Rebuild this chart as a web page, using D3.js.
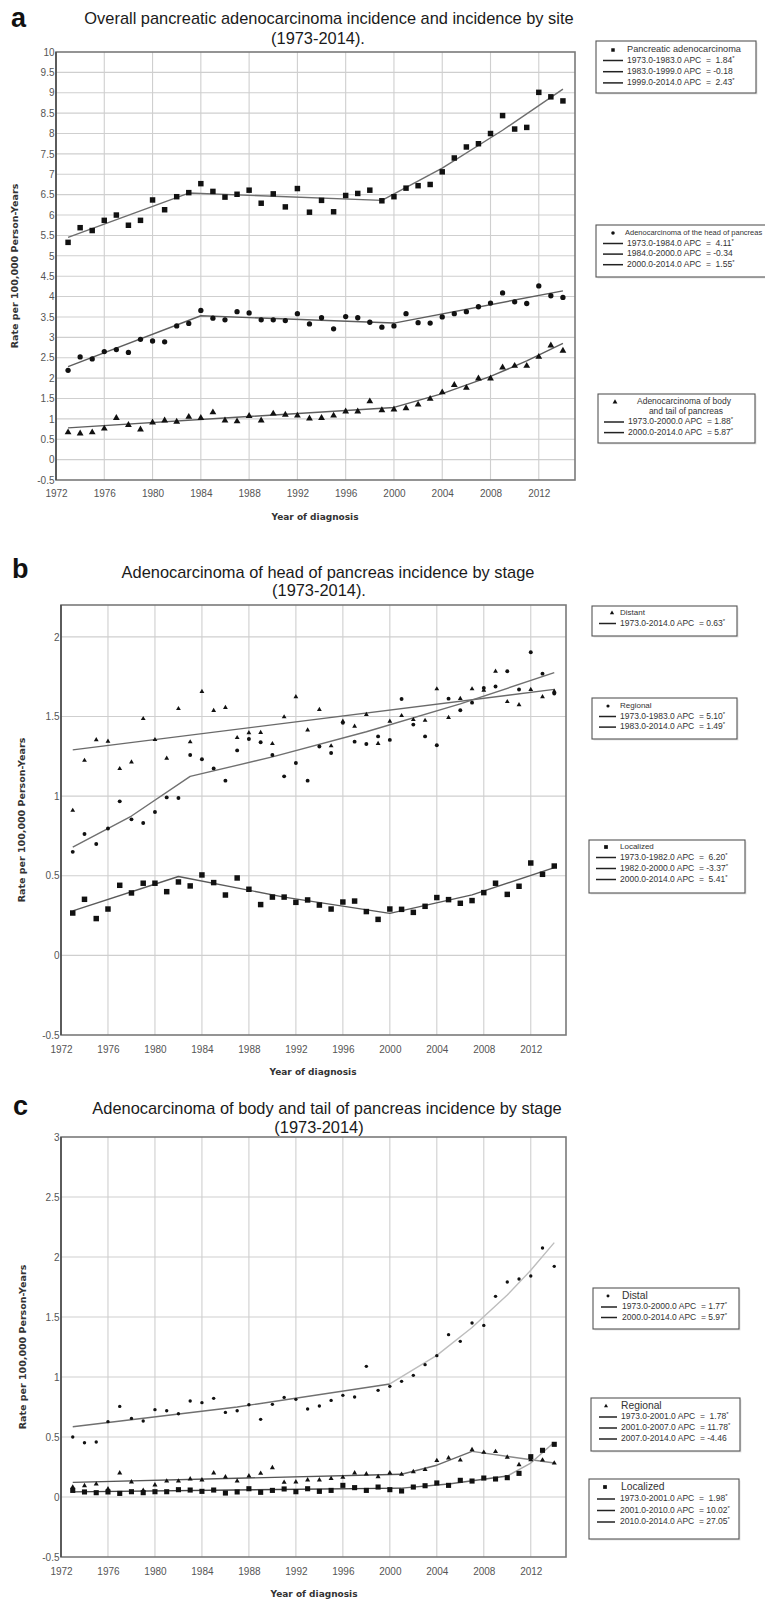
<!DOCTYPE html>
<html><head><meta charset="utf-8">
<script src="https://cdn.jsdelivr.net/npm/d3@7"></script>
<style>body{margin:0;background:#fff}svg{display:block}</style>
</head><body>
<svg id="chart" width="765" height="1603"></svg>
<script>
// ---------- data ----------
const years = [1973,1974,1975,1976,1977,1978,1979,1980,1981,1982,1983,1984,1985,1986,1987,1988,1989,1990,1991,1992,1993,1994,1995,1996,1997,1998,1999,2000,2001,2002,2003,2004,2005,2006,2007,2008,2009,2010,2011,2012,2013,2014];
const xTickYears = [1972,1976,1980,1984,1988,1992,1996,2000,2004,2008,2012];

// panel a
const aPancreatic = [5.33,5.69,5.62,5.87,6.00,5.75,5.87,6.37,6.13,6.45,6.55,6.77,6.58,6.44,6.51,6.61,6.29,6.52,6.20,6.65,6.07,6.36,6.08,6.48,6.53,6.61,6.35,6.45,6.66,6.72,6.75,7.06,7.40,7.67,7.75,8.00,8.44,8.11,8.15,9.01,8.90,8.80];
const aHead = [2.19,2.52,2.47,2.65,2.70,2.63,2.95,2.91,2.89,3.28,3.34,3.66,3.47,3.43,3.63,3.60,3.43,3.43,3.41,3.58,3.33,3.48,3.21,3.51,3.48,3.37,3.25,3.28,3.58,3.36,3.35,3.50,3.58,3.63,3.75,3.84,4.09,3.87,3.83,4.26,4.02,3.98];
const aBodyTail = [0.67,0.64,0.67,0.76,1.02,0.85,0.74,0.91,0.96,0.93,1.05,1.02,1.16,0.96,0.94,1.07,0.96,1.13,1.10,1.08,1.01,1.02,1.08,1.18,1.18,1.43,1.21,1.23,1.26,1.35,1.49,1.65,1.83,1.76,1.99,1.99,2.26,2.30,2.30,2.52,2.80,2.67];
const aPancreaticTrend = [[1973,5.45],[1983,6.54],[1999,6.36],[2004,7.15],[2009,8.08],[2014,9.09]];
const aHeadTrend = [[1973,2.28],[1984,3.53],[2000,3.35],[2014,4.14]];
const aBodyTailTrend = [[1973,0.78],[2000,1.28],[2004,1.62],[2008,2.04],[2011,2.42],[2014,2.85]];
const aYTicks = [-0.5,0,0.5,1,1.5,2,2.5,3,3.5,4,4.5,5,5.5,6,6.5,7,7.5,8,8.5,9,9.5,10];
const aLeg1 = ["1973.0-1983.0 APC  =  1.84*","1983.0-1999.0 APC  = -0.18","1999.0-2014.0 APC  =  2.43*"];
const aLeg2 = ["1973.0-1984.0 APC  =  4.11*","1984.0-2000.0 APC  = -0.34","2000.0-2014.0 APC  =  1.55*"];
const aLeg3 = ["1973.0-2000.0 APC  = 1.88*","2000.0-2014.0 APC  = 5.87*"];

// panel b
const bDistant = [0.91,1.224,1.353,1.344,1.172,1.214,1.486,1.354,1.237,1.549,1.34,1.656,1.537,1.556,1.367,1.397,1.399,1.329,1.497,1.623,1.415,1.543,1.315,1.47,1.438,1.512,1.33,1.47,1.505,1.48,1.475,1.673,1.493,1.612,1.673,1.664,1.784,1.593,1.573,1.669,1.623,1.658];
const bRegional = [0.65,0.762,0.699,0.797,0.967,0.854,0.831,0.90,0.992,0.988,1.258,1.231,1.174,1.097,1.287,1.359,1.338,1.258,1.124,1.208,1.097,1.312,1.271,1.46,1.342,1.327,1.375,1.353,1.61,1.449,1.375,1.319,1.612,1.539,1.587,1.679,1.688,1.784,1.669,1.903,1.769,1.644];
const bLocalized = [0.266,0.352,0.231,0.291,0.44,0.392,0.453,0.453,0.40,0.461,0.436,0.505,0.457,0.379,0.486,0.415,0.319,0.366,0.366,0.333,0.348,0.316,0.291,0.335,0.341,0.275,0.226,0.291,0.289,0.27,0.308,0.363,0.35,0.327,0.344,0.394,0.453,0.383,0.434,0.58,0.509,0.561];
const bDistantTrend = [[1973,1.29],[2014,1.67]];
const bRegionalTrend = [[1973,0.68],[1978,0.875],[1983,1.124],[1990,1.246],[1998,1.404],[2006,1.579],[2014,1.775]];
const bLocalizedTrend = [[1973,0.279],[1982,0.495],[1991,0.366],[2000,0.264],[2007,0.38],[2014,0.551]];
const bYTicks = [-0.5,0,0.5,1,1.5,2];
const bLeg1 = ["1973.0-2014.0 APC  = 0.63*"];
const bLeg2 = ["1973.0-1983.0 APC  = 5.10*","1983.0-2014.0 APC  = 1.49*"];
const bLeg3 = ["1973.0-1982.0 APC  =  6.20*","1982.0-2000.0 APC  = -3.37*","2000.0-2014.0 APC  =  5.41*"];

// panel c
const cDistal = [0.50,0.452,0.458,0.628,0.755,0.655,0.633,0.728,0.719,0.694,0.80,0.786,0.822,0.705,0.719,0.769,0.647,0.772,0.83,0.814,0.733,0.758,0.805,0.847,0.833,1.089,0.889,0.922,0.964,1.014,1.103,1.178,1.353,1.297,1.45,1.43,1.672,1.792,1.817,1.842,2.075,1.922];
const cRegional = [0.083,0.094,0.108,0.067,0.20,0.125,0.055,0.10,0.133,0.133,0.15,0.142,0.20,0.167,0.133,0.175,0.197,0.244,0.122,0.125,0.142,0.142,0.153,0.164,0.20,0.192,0.169,0.20,0.189,0.211,0.228,0.303,0.325,0.308,0.394,0.372,0.378,0.331,0.269,0.311,0.308,0.283];
const cLocalized = [0.055,0.042,0.036,0.042,0.03,0.044,0.036,0.044,0.044,0.061,0.058,0.047,0.058,0.033,0.042,0.069,0.039,0.055,0.067,0.044,0.069,0.047,0.055,0.097,0.078,0.055,0.083,0.061,0.05,0.083,0.094,0.117,0.097,0.139,0.133,0.158,0.15,0.161,0.197,0.336,0.389,0.439];
const cDistalTrend1 = [[1973,0.586],[1987,0.75],[2000,0.942]];
const cDistalTrend2 = [[2000,0.942],[2004,1.18],[2007,1.413],[2010,1.683],[2012,1.889],[2014,2.12]];
const cRegionalTrend1 = [[1973,0.122],[2001,0.19]];
const cRegionalTrend2 = [[2001,0.19],[2004,0.265],[2007,0.38]];
const cRegionalTrend3 = [[2007,0.38],[2014,0.283]];
const cLocalizedTrend1 = [[1973,0.043],[2001,0.074]];
const cLocalizedTrend2 = [[2001,0.074],[2005,0.108],[2010,0.175]];
const cLocalizedTrend3 = [[2010,0.175],[2012,0.283],[2014,0.456]];
const cYTicks = [-0.5,0,0.5,1,1.5,2,2.5,3];
const cLeg1 = ["1973.0-2000.0 APC  = 1.77*","2000.0-2014.0 APC  = 5.97*"];
const cLeg2 = ["1973.0-2001.0 APC  =  1.78*","2001.0-2007.0 APC  = 11.78*","2007.0-2014.0 APC  = -4.46"];
const cLeg3 = ["1973.0-2001.0 APC  =  1.98*","2001.0-2010.0 APC  = 10.02*","2010.0-2014.0 APC  = 27.05*"];

// ---------- drawing ----------
const svg = d3.select("#chart");
const SANS = "'Liberation Sans', Arial, sans-serif";
const BOLD = "'DejaVu Sans', Verdana, sans-serif";

function drawPanel(p) {
  const g = svg.append("g");
  const x = d3.scaleLinear().domain([1972, 2015]).range([p.left, p.right]);
  const y = d3.scaleLinear().domain(p.yDomain).range([p.bottom, p.top]);

  // grid
  g.selectAll("line.hg").data(p.yTicks.filter(v => v > p.yDomain[0] && v < p.yDomain[1]))
    .join("line").attr("x1", p.left).attr("x2", p.right)
    .attr("y1", d => y(d)).attr("y2", d => y(d))
    .attr("stroke", "#cfcfcf").attr("stroke-width", 1.1);
  g.selectAll("line.vg").data(xTickYears.filter(v => v > 1972))
    .join("line").attr("y1", p.top).attr("y2", p.bottom)
    .attr("x1", d => x(d)).attr("x2", d => x(d))
    .attr("stroke", "#cfcfcf").attr("stroke-width", 1.1);

  // frame
  g.append("rect").attr("x", p.left).attr("y", p.top)
    .attr("width", p.right - p.left).attr("height", p.bottom - p.top)
    .attr("fill", "none").attr("stroke", "#7a7a7a").attr("stroke-width", 1.6);
  g.append("line").attr("x1", p.left).attr("x2", p.left).attr("y1", p.top).attr("y2", p.bottom)
    .attr("stroke", "#444").attr("stroke-width", 1.4);

  // axes
  const ax = g.append("g").attr("transform", `translate(0,${p.bottom})`)
    .call(d3.axisBottom(x).tickValues(xTickYears).tickFormat(d3.format("d")).tickSize(0).tickPadding(p.xPad));
  ax.select(".domain").remove();
  ax.selectAll("text").attr("fill", "#555").style("font", `10px ${SANS}`);
  const ay = g.append("g").attr("transform", `translate(${p.left},0)`)
    .call(d3.axisLeft(y).tickValues(p.yTicks).tickFormat(d => String(d)).tickSize(0).tickPadding(1.5));
  ay.select(".domain").remove();
  ay.selectAll("text").attr("fill", "#555").style("font", `10px ${SANS}`);

  // trend lines (piecewise, sharp joinpoints)
  const line = d3.line().x(d => x(d[0])).y(d => y(d[1])).curve(d3.curveLinear);
  p.trends.forEach(t => {
    g.append("path").attr("d", line(t.pts)).attr("fill", "none")
      .attr("stroke", t.color).attr("stroke-width", 1.4).attr("stroke-linejoin", "round");
  });

  // points
  p.series.forEach(s => {
    g.selectAll(null).data(years.map((yr, i) => [yr, s.values[i]])).join("path")
      .attr("transform", d => `translate(${x(d[0])},${y(d[1])})`)
      .attr("d", d3.symbol(s.type, s.size)())
      .attr("fill", "#111");
  });

  // titles
  g.append("text").attr("x", p.letter[0]).attr("y", p.letter[1]).text(p.letter[2])
    .style("font", `bold 27px ${SANS}`).attr("fill", "#111");
  p.title.forEach(t => {
    g.append("text").attr("x", t[0]).attr("y", t[1]).attr("text-anchor", "middle")
      .text(t[2]).style("font", `16.4px ${SANS}`).attr("fill", "#1a1a1a");
  });
  g.append("text").attr("x", p.xLabel[0]).attr("y", p.xLabel[1]).attr("text-anchor", "middle")
    .text("Year of diagnosis").style("font", `bold 9px ${BOLD}`).attr("fill", "#333");
  g.append("text").attr("transform", `translate(${p.yLabel[0]},${p.yLabel[1]}) rotate(-90)`)
    .attr("text-anchor", "middle").attr("dominant-baseline", "middle")
    .text("Rate per 100,000 Person-Years").style("font", `bold 9.5px ${BOLD}`).attr("fill", "#333");

  // legends
  p.legends.forEach(L => {
    const lg = svg.append("g");
    lg.append("rect").attr("x", L.x + 1.5).attr("y", L.y + 1.5).attr("width", L.w).attr("height", L.h)
      .attr("fill", "#e6e6e6");
    lg.append("rect").attr("x", L.x).attr("y", L.y).attr("width", L.w).attr("height", L.h)
      .attr("fill", "#fff").attr("stroke", "#555").attr("stroke-width", 1.1);
    lg.append("path").attr("transform", `translate(${L.mk[0]},${L.mk[1]})`)
      .attr("d", d3.symbol(L.type, L.mkSize)()).attr("fill", "#111");
    L.header.forEach(h => {
      lg.append("text").attr("x", h[0]).attr("y", h[1]).attr("dominant-baseline", "middle")
        .attr("text-anchor", h[3] || "start").text(h[2])
        .style("font", `${h[4] || L.hSize}px ${SANS}`).attr("fill", "#333");
    });
    L.rows.forEach((r, i) => {
      const yy = L.row0 + i * L.rowStep;
      lg.append("line").attr("x1", L.x + L.seg[0]).attr("x2", L.x + L.seg[1])
        .attr("y1", yy).attr("y2", yy).attr("stroke", "#222").attr("stroke-width", 1.5);
      const star = r.endsWith("*");
      const tx = lg.append("text").attr("x", L.x + L.seg[2]).attr("y", yy).attr("dominant-baseline", "middle")
        .style("font", `8.5px ${SANS}`).attr("fill", "#333").attr("xml:space", "preserve")
        .style("white-space", "pre");
      tx.append("tspan").text(star ? r.slice(0, -1) : r);
      if (star) tx.append("tspan").attr("dy", -3).style("font-size", "6px").text("*");
    });
  });
}

drawPanel({
  left: 56, right: 575, top: 52, bottom: 480, yDomain: [-0.5, 10], yTicks: aYTicks, xPad: 10,
  letter: [11, 27, "a"],
  title: [[329, 24, "Overall pancreatic adenocarcinoma incidence and incidence by site"], [318, 44, "(1973-2014)."]],
  xLabel: [315, 520], yLabel: [15, 266],
  trends: [{pts: aPancreaticTrend, color: "#6e6e6e"}, {pts: aHeadTrend, color: "#5e5e5e"}, {pts: aBodyTailTrend, color: "#5e5e5e"}],
  series: [{values: aPancreatic, type: d3.symbolSquare, size: 30},
           {values: aHead, type: d3.symbolCircle, size: 22},
           {values: aBodyTail, type: d3.symbolTriangle, size: 20}],
  legends: [
    {x: 596, y: 41, w: 160, h: 52, type: d3.symbolSquare, mkSize: 12, mk: [613, 50], hSize: 9.2,
     header: [[627, 50, "Pancreatic adenocarcinoma"]], rows: aLeg1, row0: 60.5, rowStep: 11.2, seg: [7, 27, 31]},
    {x: 596, y: 225, w: 180, h: 52, type: d3.symbolCircle, mkSize: 10, mk: [613, 233], hSize: 7.5,
     header: [[625, 233, "Adenocarcinoma of the head of pancreas"]], rows: aLeg2, row0: 243.5, rowStep: 10.6, seg: [7, 27, 31]},
    {x: 598, y: 394, w: 157, h: 49, type: d3.symbolTriangle, mkSize: 10, mk: [615, 402], hSize: 8.5,
     header: [[684, 402, "Adenocarcinoma of body", "middle"], [686, 412, "and tail of pancreas", "middle"]],
     rows: aLeg3, row0: 422, rowStep: 10.6, seg: [6, 26, 30]}
  ]
});

drawPanel({
  left: 61, right: 566, top: 605, bottom: 1035, yDomain: [-0.5, 2.2], yTicks: bYTicks, xPad: 11,
  letter: [12, 578, "b"],
  title: [[328, 578, "Adenocarcinoma of head of pancreas incidence by stage"], [319, 596, "(1973-2014)."]],
  xLabel: [313, 1075], yLabel: [22, 820],
  trends: [{pts: bDistantTrend, color: "#6a6a6a"}, {pts: bRegionalTrend, color: "#707070"}, {pts: bLocalizedTrend, color: "#5a5a5a"}],
  series: [{values: bDistant, type: d3.symbolTriangle, size: 10},
           {values: bRegional, type: d3.symbolCircle, size: 12},
           {values: bLocalized, type: d3.symbolSquare, size: 30}],
  legends: [
    {x: 592, y: 606, w: 145, h: 30, type: d3.symbolTriangle, mkSize: 8, mk: [612, 613], hSize: 8,
     header: [[620, 613, "Distant"]], rows: bLeg1, row0: 623.5, rowStep: 10.6, seg: [7, 24, 28]},
    {x: 592, y: 698, w: 145, h: 41, type: d3.symbolCircle, mkSize: 8, mk: [608, 706], hSize: 8,
     header: [[620, 706, "Regional"]], rows: bLeg2, row0: 716.5, rowStep: 10.6, seg: [7, 24, 28]},
    {x: 589, y: 840, w: 156, h: 53, type: d3.symbolSquare, mkSize: 14, mk: [606, 847], hSize: 8,
     header: [[620, 847, "Localized"]], rows: bLeg3, row0: 857.5, rowStep: 11, seg: [7, 27, 31]}
  ]
});

drawPanel({
  left: 61, right: 566, top: 1137, bottom: 1557, yDomain: [-0.5, 3], yTicks: cYTicks, xPad: 11,
  letter: [13, 1115, "c"],
  title: [[327, 1114, "Adenocarcinoma of body and tail of pancreas incidence by stage"], [319, 1133, "(1973-2014)"]],
  xLabel: [314, 1597], yLabel: [23, 1347],
  trends: [{pts: cDistalTrend1, color: "#707070"}, {pts: cDistalTrend2, color: "#bdbdbd"},
           {pts: cRegionalTrend1, color: "#555"}, {pts: cRegionalTrend2, color: "#6a6a6a"}, {pts: cRegionalTrend3, color: "#8a8a8a"},
           {pts: cLocalizedTrend1, color: "#444"}, {pts: cLocalizedTrend2, color: "#666"}, {pts: cLocalizedTrend3, color: "#a8a8a8"}],
  series: [{values: cDistal, type: d3.symbolCircle, size: 9},
           {values: cRegional, type: d3.symbolTriangle, size: 11},
           {values: cLocalized, type: d3.symbolSquare, size: 26}],
  legends: [
    {x: 593, y: 1288, w: 146, h: 41, type: d3.symbolCircle, mkSize: 7, mk: [608, 1296], hSize: 10.3,
     header: [[622, 1296, "Distal"]], rows: cLeg1, row0: 1307, rowStep: 10.5, seg: [8, 24, 29]},
    {x: 591, y: 1398, w: 149, h: 53, type: d3.symbolTriangle, mkSize: 7, mk: [606, 1406], hSize: 10.3,
     header: [[621, 1406, "Regional"]], rows: cLeg2, row0: 1417, rowStep: 11, seg: [8, 26, 30]},
    {x: 589, y: 1479, w: 150, h: 60, type: d3.symbolSquare, mkSize: 14, mk: [605, 1487], hSize: 10.3,
     header: [[621, 1487, "Localized"]], rows: cLeg3, row0: 1499, rowStep: 11.5, seg: [8, 26, 31]}
  ]
});
</script>
</body></html>
